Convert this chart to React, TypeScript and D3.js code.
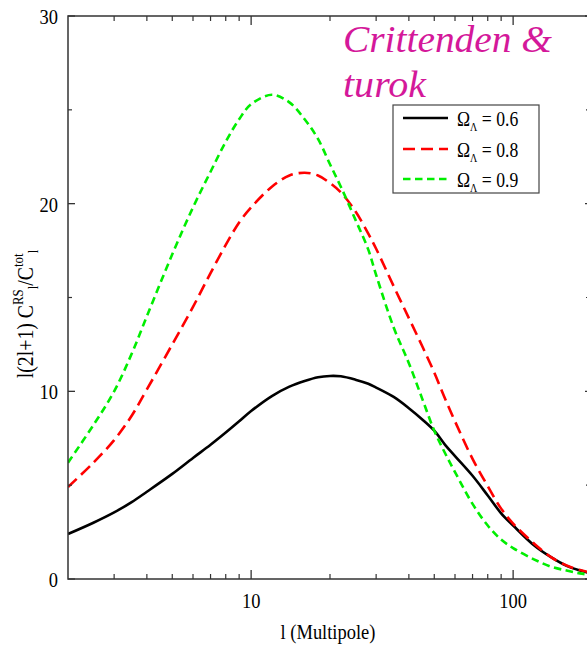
import React from 'react';
import * as d3 from 'd3';

const multipoles = [2, 2.5, 3, 3.5, 4, 5, 6, 7, 8, 9, 10, 12, 14, 16, 18, 20, 22, 25, 28, 30, 35, 40, 45, 50, 55, 60, 70, 80, 90, 100, 120, 140, 160, 180, 200];
const omega06 = [2.4, 3.0, 3.55, 4.1, 4.65, 5.6, 6.45, 7.15, 7.8, 8.4, 8.95, 9.75, 10.25, 10.55, 10.75, 10.82, 10.8, 10.62, 10.4, 10.2, 9.7, 9.1, 8.5, 7.9, 7.15, 6.55, 5.5, 4.45, 3.5, 2.85, 1.8, 1.15, 0.7, 0.45, 0.3];
const omega08 = [4.9, 6.2, 7.4, 8.7, 10.1, 12.5, 14.5, 16.3, 17.8, 19.0, 19.8, 20.9, 21.5, 21.65, 21.5, 21.1, 20.6, 19.6, 18.4, 17.6, 15.6, 13.9, 12.4, 11.0, 9.6, 8.4, 6.4, 4.95, 3.75, 2.95, 1.9, 1.15, 0.72, 0.48, 0.33];
const omega09 = [6.2, 8.2, 10.0, 12.0, 14.0, 17.3, 19.8, 21.7, 23.3, 24.5, 25.3, 25.8, 25.4, 24.5, 23.45, 22.1, 20.9, 19.15, 17.55, 16.2, 13.4, 11.5, 9.6, 7.9, 6.7, 5.7, 4.0, 2.85, 2.1, 1.65, 1.05, 0.65, 0.45, 0.3, 0.2];
const seriesValues = ['0.6', '0.8', '0.9'];
const xTickLabels = [10, 100];
const xMinorTicks = [3, 4, 5, 6, 7, 8, 9, 20, 30, 40, 50, 60, 70, 80, 90];
const yTickLabels = [0, 10, 20, 30];
const yMinorTicks = [5, 15, 25];

const FONT = '"Liberation Serif", "Times New Roman", serif';
const W = 587;
const H = 646;
const left = 68;
const right = 592;
const top = 16;
const bottom = 579;

const CT = ({ x, y, size = 22, anchor = 'middle', children, sx = 0.84, ...rest }: any) => (
  <text transform={`translate(${x},${y}) scale(${sx},1)`} textAnchor={anchor} fontFamily={FONT} fontSize={size} fill="#000" {...rest}>
    {children}
  </text>
);

export default function App() {
  const x = d3.scaleLog().domain([2, 200]).range([left, right]);
  const y = d3.scaleLinear().domain([0, 30]).range([bottom, top]);
  const line = d3
    .line<number>()
    .x((_, i) => x(multipoles[i]))
    .y((d) => y(d))
    .curve(d3.curveCatmullRom.alpha(0.5));

  const series = [
    { vals: omega06, color: '#000', dash: undefined, width: 2.6 },
    { vals: omega08, color: '#ff0000', dash: '12 6', width: 2.6 },
    { vals: omega09, color: '#00ee00', dash: '7.5 4.5', width: 2.6 },
  ];

  const axisColor = '#333';
  const titleStyle: React.CSSProperties = {
    fontFamily: FONT,
    fontStyle: 'italic',
    fontSize: '38px',
    fill: '#d4189a',
  };
  return (
    <svg width={W} height={H} style={{ position: 'absolute', left: 0, top: 0, background: '#fff' }}>
      <rect x={0} y={0} width={W} height={H} fill="#fff" />
      <defs>
        <clipPath id="plot">
          <rect x={left} y={top} width={right - left} height={bottom - top} />
        </clipPath>
      </defs>
      <g clipPath="url(#plot)">
        {series.map((s, i) => (
          <path key={i} d={line(s.vals) || ''} fill="none" stroke={s.color} strokeWidth={s.width} strokeDasharray={s.dash} />
        ))}
      </g>
      <rect x={left} y={top} width={right - left} height={bottom - top} fill="none" stroke={axisColor} strokeWidth={1.5} />
      {xTickLabels.map((t) => (
        <g key={'xm' + t}>
          <line x1={x(t)} x2={x(t)} y1={bottom} y2={bottom - 9} stroke={axisColor} strokeWidth={1.3} />
          <line x1={x(t)} x2={x(t)} y1={top} y2={top + 9} stroke={axisColor} strokeWidth={1.3} />
          <CT x={x(t)} y={608} size={22}>{t}</CT>
        </g>
      ))}
      {xMinorTicks.map((t) => (
        <g key={'xn' + t}>
          <line x1={x(t)} x2={x(t)} y1={bottom} y2={bottom - 5} stroke={axisColor} strokeWidth={1.2} />
          <line x1={x(t)} x2={x(t)} y1={top} y2={top + 5} stroke={axisColor} strokeWidth={1.2} />
        </g>
      ))}
      {yTickLabels.map((t) => (
        <g key={'ym' + t}>
          <line x1={left} x2={left + 7} y1={y(t)} y2={y(t)} stroke={axisColor} strokeWidth={1.3} />
          <line x1={right} x2={right - 7} y1={y(t)} y2={y(t)} stroke={axisColor} strokeWidth={1.3} />
          <CT x={58} y={y(t) + 8} size={22} anchor="end">{t}</CT>
        </g>
      ))}
      {yMinorTicks.map((t) => (
        <g key={'yn' + t}>
          <line x1={left} x2={left + 4} y1={y(t)} y2={y(t)} stroke={axisColor} strokeWidth={1.2} />
          <line x1={right} x2={right - 6} y1={y(t)} y2={y(t)} stroke={axisColor} strokeWidth={1.2} />
        </g>
      ))}
      <CT x={328} y={639} size={22}>l (Multipole)</CT>
      <text transform={`translate(33,314) rotate(-90) scale(0.86,1)`} textAnchor="middle" fontFamily={FONT} fontSize={23} fill="#000">
        l(2l+1) C<tspan fontSize={15} dy={-10}>RS</tspan>
        <tspan fontSize={15} dy={15}>l</tspan>
        <tspan dy={-5}>/C</tspan>
        <tspan fontSize={15} dy={-10}>tot</tspan>
        <tspan fontSize={15} dy={15}>l</tspan>
      </text>
      <text x={343} y={52} style={titleStyle} textLength={209} lengthAdjust="spacingAndGlyphs">Crittenden &amp;</text>
      <text x={343} y={97} style={titleStyle} textLength={83} lengthAdjust="spacingAndGlyphs">turok</text>
      <rect x={393} y={105} width={146} height={88} fill="#fff" stroke="#444" strokeWidth={1.2} />
      {series.map((s, i) => {
        const ly = [118, 149, 179][i];
        return (
          <g key={'lg' + i}>
            <line x1={403} x2={448} y1={ly} y2={ly} stroke={s.color} strokeWidth={s.width} strokeDasharray={s.dash} />
            <text transform={`translate(457,${ly + 8}) scale(0.84,1)`} fontFamily={FONT} fontSize={21} fill="#000">
              Ω<tspan fontSize={12} dy={5}>Λ</tspan>
              <tspan dy={-5}> = {seriesValues[i]}</tspan>
            </text>
          </g>
        );
      })}
    </svg>
  );
}
